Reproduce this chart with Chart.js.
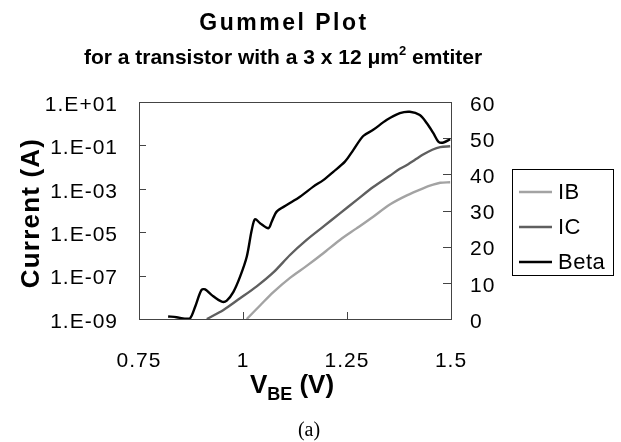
<!DOCTYPE html>
<html lang="en">
<head>
<meta charset="utf-8">
<title>Gummel Plot</title>
<script src="https://cdn.jsdelivr.net/npm/chart.js"></script>
<style>
	html, body { margin: 0; padding: 0; background: #fff; }
	#wrap { width: 621px; height: 442px; }
</style>
</head>
<body>
<div id="wrap"><canvas id="chart" width="621" height="442"></canvas></div>
<script>
// values
const vbeIB = [1.009, 1.041, 1.073, 1.113, 1.153, 1.193, 1.233, 1.273, 1.313, 1.353, 1.394, 1.433, 1.455, 1.474, 1.498]
const currentIB = [1.0e-9, 4.2e-9, 1.74e-8, 7.9e-8, 2.8e-7, 1.07e-6, 4.4e-6, 1.5e-5, 5.2e-5, 1.9e-4, 5.0e-4, 1.05e-3, 1.5e-3, 1.9e-3, 2.0e-3]

const vbeIC = [0.913, 0.953, 0.993, 1.033, 1.073, 1.113, 1.153, 1.193, 1.233, 1.273, 1.313, 1.353, 1.377, 1.394, 1.417, 1.433, 1.455, 1.474, 1.498]
const currentIC = [1.0e-9, 2.6e-9, 9.0e-9, 3.2e-8, 1.4e-7, 8.9e-7, 4.4e-6, 1.8e-5, 7.4e-5, 3.0e-4, 1.2e-3, 4.0e-3, 8.3e-3, 1.26e-2, 2.4e-2, 3.8e-2, 6.3e-2, 8.3e-2, 9.1e-2]

const vbeBeta = [0.82, 0.84, 0.86, 0.873, 0.885, 0.90, 0.909, 0.925, 0.949, 0.961, 0.977, 0.993, 1.009, 1.021, 1.029, 1.041, 1.061, 1.069, 1.081, 1.105, 1.137, 1.169, 1.193, 1.217, 1.245, 1.265, 1.289, 1.313, 1.345, 1.377, 1.401, 1.425, 1.442, 1.458, 1.470, 1.482, 1.498]
const beta = [0.7, 0.5, 0.1, 0.2, 3.4, 8.0, 8.2, 6.6, 4.8, 5.1, 7.5, 11.7, 17.2, 24.6, 27.6, 26.5, 25.1, 26.9, 29.7, 31.5, 33.8, 36.6, 38.4, 40.7, 43.5, 46.7, 50.6, 52.3, 55.0, 56.9, 57.3, 56.4, 54.1, 51.3, 49.0, 48.8, 49.7]

const vbeTicks = [0.75, 1, 1.25, 1.5]
const vbeTickLabels = ["0.75", "1", "1.25", "1.5"]
const currentTicks = [1e1, 1e-1, 1e-3, 1e-5, 1e-7, 1e-9]
const currentTickLabels = ["1.E+01", "1.E-01", "1.E-03", "1.E-05", "1.E-07", "1.E-09"]
const betaTicks = [0, 10, 20, 30, 40, 50, 60]

const seriesNames = ["IB", "IC", "Beta"]
const seriesColors = ["#a3a3a3", "#5f5f5f", "#000000"]

const FONT = "'Liberation Sans', Arial, sans-serif"
const tickFont = {family: FONT, size: 21}

function points(xs, ys) {
	return xs.map((x, i) => ({x: x, y: ys[i]}))
}

function drawRuns(ctx, runs, cx, y, spacing) {
	ctx.letterSpacing = (spacing || 0) + "px"
	let total = 0
	runs.forEach(r => { ctx.font = r.font; total += ctx.measureText(r.text).width })
	let x = cx - total / 2
	ctx.textAlign = "left"
	runs.forEach(r => {
		ctx.font = r.font
		ctx.fillText(r.text, x, y + (r.dy || 0))
		x += ctx.measureText(r.text).width
	})
	ctx.letterSpacing = "0px"
}

const frame = {
	id: "frame",
	beforeDraw(chart) {
		// the reference's tick labels are slightly letter-spaced
		chart.ctx.letterSpacing = "1px"
	},
	beforeDatasetsDraw(chart) {
		const {ctx, chartArea: a, scales} = chart
		ctx.save()
		ctx.strokeStyle = "#444"
		ctx.lineWidth = 1
		ctx.strokeRect(Math.round(a.left) + 0.5, Math.round(a.top) + 0.5, Math.round(a.right - a.left), Math.round(a.bottom - a.top))
		ctx.beginPath()
		vbeTicks.slice(1, -1).forEach(v => {
			const x = Math.round(scales.x.getPixelForValue(v)) + 0.5
			ctx.moveTo(x, a.bottom); ctx.lineTo(x, a.bottom - 7)
		})
		currentTicks.slice(1, -1).forEach(v => {
			const y = Math.round(scales.y.getPixelForValue(v)) + 0.5
			ctx.moveTo(a.left, y); ctx.lineTo(a.left + 7, y)
		})
		betaTicks.slice(1, -1).forEach(v => {
			const y = Math.round(scales.y2.getPixelForValue(v)) + 0.5
			ctx.moveTo(a.right, y); ctx.lineTo(a.right - 8, y)
		})
		ctx.stroke()
		ctx.restore()
	},
	afterDraw(chart) {
		const ctx = chart.ctx
		ctx.save()
		ctx.fillStyle = "#000"
		ctx.textBaseline = "alphabetic"

		drawRuns(ctx, [{text: "Gummel Plot", font: "bold 23px " + FONT}], 284, 30, 2.5)
		drawRuns(ctx, [
			{text: "for a transistor with a 3 x 12 \u03bcm", font: "bold 21px " + FONT},
			{text: "2", font: "bold 13px " + FONT, dy: -9},
			{text: " emtiter", font: "bold 21px " + FONT}
		], 283, 64)

		ctx.save()
		ctx.translate(39, 213)
		ctx.rotate(-Math.PI / 2)
		drawRuns(ctx, [{text: "Current (A)", font: "bold 26px " + FONT}], 0, 0, 1.2)
		ctx.restore()

		drawRuns(ctx, [
			{text: "V", font: "bold 26px " + FONT},
			{text: "BE", font: "bold 18px " + FONT, dy: 7},
			{text: " (V)", font: "bold 26px " + FONT}
		], 292, 393)

		drawRuns(ctx, [{text: "(a)", font: "20px 'Liberation Serif', 'Times New Roman', serif"}], 309, 436)

		// legend
		ctx.strokeStyle = "#000"
		ctx.lineWidth = 1
		ctx.strokeRect(512.5, 169.5, 101, 106)
		ctx.textBaseline = "middle"
		ctx.font = "22px " + FONT
		ctx.letterSpacing = "0.5px"
		seriesNames.forEach((name, i) => {
			const y = 192 + i * 35
			ctx.strokeStyle = seriesColors[i]
			ctx.lineWidth = 2.5
			ctx.beginPath(); ctx.moveTo(519, y); ctx.lineTo(552, y); ctx.stroke()
			ctx.fillText(name, 558, y + 1)
		})
		ctx.restore()
		ctx.letterSpacing = "0px"
	}
}

new Chart(document.getElementById("chart").getContext("2d"), {
	type: "line",
	data: {
		datasets: [
			{label: seriesNames[0], data: points(vbeIB, currentIB), yAxisID: "y"},
			{label: seriesNames[1], data: points(vbeIC, currentIC), yAxisID: "y"},
			{label: seriesNames[2], data: points(vbeBeta, beta), yAxisID: "y2"}
		].map((d, i) => Object.assign(d, {
			borderColor: seriesColors[i],
			backgroundColor: seriesColors[i],
			borderWidth: 2.4,
			pointRadius: 0,
			tension: 0.3,
			fill: false
		}))
	},
	options: {
		responsive: false,
		animation: false,
		devicePixelRatio: 1,
		layout: {padding: {top: 102, left: 0, right: 0, bottom: 0}},
		plugins: {legend: {display: false}, tooltip: {enabled: false}, title: {display: false}},
		scales: {
			x: {
				type: "linear",
				min: 0.75,
				max: 1.5,
				afterBuildTicks: s => { s.ticks = vbeTicks.map(v => ({value: v})) },
				afterFit: s => { s.height = 442 - 319 },
				grid: {display: false, drawTicks: false},
				border: {display: false},
				ticks: {
					padding: 30,
					color: "#000",
					font: tickFont,
					maxRotation: 0,
					callback: (v, i) => vbeTickLabels[i]
				}
			},
			y: {
				type: "logarithmic",
				position: "left",
				min: 1e-9,
				max: 1e1,
				afterBuildTicks: s => { s.ticks = currentTicks.map(v => ({value: v})) },
				afterFit: s => { s.width = 139 },
				grid: {display: false, drawTicks: false},
				border: {display: false},
				ticks: {
					padding: 21,
					labelOffset: 3,
					color: "#000",
					font: tickFont,
					callback: (v, i) => currentTickLabels[i]
				}
			},
			y2: {
				type: "linear",
				position: "right",
				min: 0,
				max: 60,
				afterBuildTicks: s => { s.ticks = betaTicks.map(v => ({value: v})) },
				afterFit: s => { s.width = 621 - 451 },
				grid: {display: false, drawTicks: false},
				border: {display: false},
				ticks: {
					padding: 19,
					labelOffset: 3,
					color: "#000",
					font: tickFont
				}
			}
		}
	},
	plugins: [frame]
})
</script>
</body>
</html>
